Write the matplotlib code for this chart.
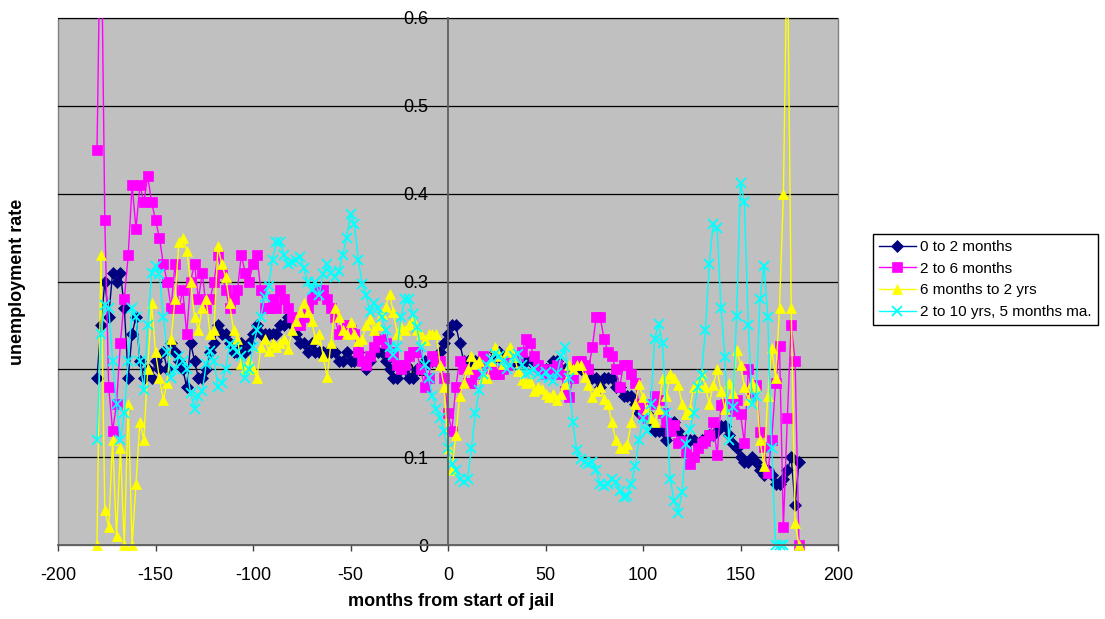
import numpy as np
import matplotlib
matplotlib.use("Agg")
import matplotlib.pyplot as plt
from matplotlib.patches import Rectangle
from matplotlib.ticker import FuncFormatter

plt.rcParams['font.family'] = ['Liberation Sans', 'DejaVu Sans']
plt.rcParams['axes.unicode_minus'] = False

nan = float('nan')

# months from start of jail, every second month
months = np.arange(-180, 181, 2)

# 0 to 2 months
short_stay = [
    0.19, 0.25, 0.30, 0.26, 0.31, 0.30, 0.31, 0.27, 0.19, 0.24,   # -180
    0.26, 0.21, 0.19, 0.20, 0.19, 0.21, 0.20, 0.22, 0.20, 0.23,   # -160
    0.22, 0.21, 0.20, 0.18, 0.23, 0.21, 0.19, 0.19, 0.20, 0.22,   # -140
    0.23, 0.25, 0.24, 0.24, 0.23, 0.22, 0.22, 0.23, 0.22, 0.23,   # -120
    0.24, 0.25, 0.24, 0.24, 0.24, 0.24, 0.24, 0.25, 0.25, 0.26,   # -100
    0.25, 0.24, 0.23, 0.23, 0.22, 0.23, 0.22, 0.22, 0.22, 0.22,   # -80
    0.22, 0.22, 0.21, 0.21, 0.22, 0.21, 0.21, 0.22, 0.21, 0.20,   # -60
    0.21, 0.22, 0.22, 0.22, 0.21, 0.20, 0.19, 0.19, 0.20, 0.20,   # -40
    0.19, 0.19, 0.20, 0.20, 0.21, 0.21, 0.21, 0.21, 0.22, 0.23,   # -20
    0.24, 0.25, 0.25, 0.23, 0.21, 0.21, 0.21, 0.21, 0.21, 0.21,   # 0
    0.21, 0.21, 0.22, 0.22, 0.21, 0.21, 0.22, 0.21, 0.21, 0.21,   # 20
    0.21, 0.21, 0.21, 0.20, 0.20, 0.20, 0.20, 0.21, 0.21, 0.20,   # 40
    0.20, 0.20, 0.20, 0.20, 0.20, 0.20, 0.20, 0.19, 0.19, 0.18,   # 60
    0.19, 0.19, 0.19, 0.18, 0.18, 0.17, 0.17, 0.17, 0.16, 0.15,   # 80
    0.15, 0.15, 0.14, 0.13, 0.13, 0.13, 0.12, 0.13, 0.14, 0.13,   # 100
    0.12, 0.12, 0.12, 0.12, 0.115, 0.12, 0.12, 0.125, 0.125, 0.13,   # 120
    0.135, 0.135, 0.125, 0.115, 0.11, 0.10, 0.095, 0.095, 0.10, 0.095,   # 140
    0.085, 0.08, 0.085, 0.08, 0.07, 0.07, 0.075, 0.085, 0.10, 0.045,   # 160
    0.095,
]

# 2 to 6 months
mid_stay = [
    0.45, 0.75, 0.37, 0.18, 0.13, 0.16, 0.23, 0.28, 0.33, 0.41,
    0.36, 0.41, 0.39, 0.42, 0.39, 0.37, 0.35, 0.32, 0.30, 0.27,
    0.32, 0.27, 0.29, 0.24, 0.30, 0.32, 0.28, 0.31, 0.27, 0.28,
    0.30, 0.33, 0.31, 0.29, 0.27, 0.28, 0.29, 0.33, 0.31, 0.30,
    0.32, 0.33, 0.29, 0.27, 0.27, 0.28, 0.27, 0.29, 0.28, 0.27,
    0.26, 0.25, 0.25, 0.26, 0.27, 0.28, 0.285, 0.29, 0.29, 0.28,
    0.27, 0.26, 0.24, 0.245, 0.25, 0.245, 0.24, 0.22, 0.21, 0.205,
    0.215, 0.225, 0.235, 0.235, 0.23, 0.22, 0.215, 0.205, 0.20, 0.205,
    0.215, 0.22, 0.22, 0.20, 0.18, 0.19, 0.215, 0.21, 0.21, 0.19,
    0.15, 0.13, 0.18, 0.21, 0.20, 0.185, 0.185, 0.195, 0.205, 0.215,
    0.205, 0.20, 0.195, 0.195, 0.20, 0.205, 0.215, 0.215, 0.215, 0.22,
    0.235, 0.23, 0.215, 0.205, 0.20, 0.195, 0.195, 0.20, 0.205, 0.195,
    0.175, 0.168, 0.19, 0.21, 0.21, 0.205, 0.20, 0.225, 0.26, 0.26,
    0.235, 0.22, 0.215, 0.20, 0.18, 0.205, 0.205, 0.195, 0.185, 0.16,
    0.15, 0.145, 0.16, 0.17, 0.165, 0.15, 0.14, 0.13, 0.137, 0.116,
    0.118, 0.106, 0.092, 0.10, 0.11, 0.116, 0.118, 0.125, 0.14, 0.102,
    0.159, 0.161, 0.16, 0.153, 0.165, 0.149, 0.116, 0.20, 0.17, 0.182,
    0.129, 0.112, 0.082, 0.12, 0.184, 0.227, 0.02, 0.145, 0.25, 0.21,
    0.0,
]

# 6 months to 2 yrs
long_stay = [
    0.0, 0.33, 0.04, 0.02, 0.12, 0.01, 0.11, 0.0, 0.16, 0.0,
    0.07, 0.14, 0.12, 0.20, 0.275, 0.22, 0.19, 0.165, 0.185, 0.235,
    0.28, 0.345, 0.35, 0.335, 0.30, 0.26, 0.245, 0.27, 0.28, 0.24,
    0.245, 0.34, 0.32, 0.305, 0.275, 0.245, 0.235, 0.206, 0.20, 0.21,
    0.20, 0.19, 0.225, 0.235, 0.221, 0.23, 0.225, 0.23, 0.235, 0.223,
    0.245, 0.255, 0.265, 0.275, 0.265, 0.255, 0.235, 0.24, 0.215, 0.191,
    0.23, 0.27, 0.26, 0.245, 0.24, 0.254, 0.24, 0.232, 0.235, 0.25,
    0.257, 0.245, 0.25, 0.263, 0.271, 0.286, 0.265, 0.24, 0.248, 0.245,
    0.25, 0.256, 0.245, 0.24, 0.233, 0.24, 0.24, 0.24, 0.205, 0.18,
    0.11, 0.085, 0.125, 0.17, 0.185, 0.20, 0.215, 0.206, 0.21, 0.19,
    0.19, 0.21, 0.225, 0.215, 0.206, 0.22, 0.225, 0.214, 0.198, 0.188,
    0.185, 0.187, 0.175, 0.18, 0.178, 0.172, 0.168, 0.172, 0.165, 0.172,
    0.183, 0.205, 0.20, 0.205, 0.205, 0.191, 0.182, 0.168, 0.175, 0.18,
    0.166, 0.161, 0.14, 0.12, 0.11, 0.11, 0.115, 0.14, 0.16, 0.183,
    0.168, 0.155, 0.145, 0.14, 0.155, 0.19, 0.17, 0.195, 0.19, 0.182,
    0.161, 0.149, 0.155, 0.18, 0.185, 0.195, 0.18, 0.161, 0.182, 0.20,
    0.175, 0.155, 0.185, 0.173, 0.222, 0.205, 0.18, 0.165, 0.185, 0.18,
    0.12, 0.09, 0.17, 0.224, 0.19, 0.27, 0.40, 0.70, 0.27, 0.025,
    0.0,
]

# 2 to 10 yrs, 5 months moving average
very_long_stay = [
    0.12, 0.24, 0.273, 0.27, 0.21, 0.16, 0.12, 0.15, 0.21, 0.27,
    0.26, 0.21, 0.176, 0.25, 0.31, 0.318, 0.308, 0.26, 0.22, 0.19,
    0.20, 0.215, 0.21, 0.20, 0.173, 0.155, 0.17, 0.175, 0.206, 0.221,
    0.21, 0.18, 0.185, 0.20, 0.229, 0.225, 0.22, 0.215, 0.19, 0.20,
    0.225, 0.245, 0.26, 0.282, 0.295, 0.325, 0.345, 0.345, 0.33, 0.32,
    0.322, 0.325, 0.328, 0.315, 0.30, 0.29, 0.30, 0.285, 0.309, 0.32,
    0.31, 0.305, 0.312, 0.33, 0.35, 0.377, 0.365, 0.325, 0.297, 0.285,
    0.265, 0.276, 0.27, 0.26, 0.245, 0.225, 0.216, 0.225, 0.26, 0.28,
    0.28, 0.263, 0.248, 0.225, 0.205, 0.19, 0.17, 0.155, 0.145, 0.13,
    0.11, 0.092, 0.085, 0.075, 0.072, 0.075, 0.11, 0.15, 0.176, 0.195,
    0.205, 0.212, 0.217, 0.215, 0.21, 0.20, 0.205, 0.215, 0.218, 0.205,
    0.195, 0.197, 0.20, 0.195, 0.191, 0.197, 0.19, 0.187, 0.196, 0.215,
    0.225, 0.19, 0.14, 0.108, 0.098, 0.094, 0.092, 0.094, 0.085, 0.07,
    0.067, 0.07, 0.075, 0.072, 0.062, 0.055, 0.056, 0.07, 0.09, 0.12,
    0.145, 0.13, 0.16, 0.235, 0.252, 0.23, 0.15, 0.075, 0.05, 0.037,
    0.06, 0.115, 0.132, 0.15, 0.18, 0.194, 0.245, 0.32, 0.366, 0.361,
    0.27, 0.214, 0.12, 0.157, 0.261, 0.412, 0.39, 0.25, 0.16, 0.17,
    0.28, 0.318, 0.26, 0.11, 0.0, 0.0, 0.0, nan, nan, nan,
    nan,
]

labels = ['0 to 2 months', '2 to 6 months', '6 months to 2 yrs',
          '2 to 10 yrs, 5 months ma.']
colors = ['#000080', '#FF00FF', '#FFFF00', '#00FFFF']
markers = ['D', 's', '^', 'x']
msizes = [6, 7, 7.5, 7]
series = [short_stay, mid_stay, long_stay, very_long_stay]

fig = plt.figure(figsize=(11.05, 6.19), dpi=100)
ax = fig.add_axes([58 / 1105, 74 / 619, 780 / 1105, 527 / 619])
ax.set_facecolor('#C0C0C0')
ax.patch.set_edgecolor('#808080')
ax.patch.set_linewidth(1.0)

# clip a bit below the axis so markers at 0 are drawn whole
clip = Rectangle((-0.02, -0.03), 1.04, 1.03, transform=ax.transAxes)

handles = []
for vals, lab, col, mk, ms in zip(series, labels, colors, markers, msizes):
    ln, = ax.plot(months, vals, color=col, lw=1.0, marker=mk, markersize=ms,
                  markeredgecolor=col, markerfacecolor=col,
                  markeredgewidth=1.3 if mk == 'x' else 0.5, label=lab)
    ln.set_clip_path(clip)
    handles.append(ln)

ax.set_xlim(-200, 200)
ax.set_ylim(0, 0.6)
ax.set_xticks(range(-200, 201, 50))
ax.set_yticks([0, 0.1, 0.2, 0.3, 0.4, 0.5, 0.6])
ax.yaxis.set_major_formatter(FuncFormatter(lambda v, p: f'{v:g}'))

ax.grid(axis='y', color='black', lw=0.9)
ax.set_axisbelow(True)

ax.spines['left'].set_position(('data', 0))
ax.spines['left'].set_color('#606060')
ax.spines['left'].set_linewidth(1.3)
ax.spines['bottom'].set_color('#606060')
ax.spines['bottom'].set_linewidth(1.3)
ax.spines['top'].set_visible(False)
ax.spines['right'].set_visible(False)

ax.tick_params(axis='x', direction='out', length=4, width=1, color='#404040',
               labelsize=13, pad=12)
ax.tick_params(axis='y', direction='out', length=0, labelsize=13, pad=14)

fig.text(18 / 1105, 1 - 282 / 619, 'unemployment rate', rotation=90,
         ha='center', va='center', fontsize=13, fontweight='bold')
fig.text(451 / 1105, 1 - 602 / 619, 'months from start of jail',
         ha='center', va='center', fontsize=13, fontweight='bold')

leg = fig.legend(handles=handles, loc='upper left',
                 bbox_to_anchor=(873 / 1105, 1 - 234 / 619), borderaxespad=0,
                 fontsize=11, numpoints=1, handlelength=2.4, handletextpad=0.3,
                 labelspacing=0.5, borderpad=0.4, fancybox=False,
                 framealpha=1, edgecolor='black')
leg.get_frame().set_linewidth(1.0)

fig.savefig('out.png', dpi=100)
